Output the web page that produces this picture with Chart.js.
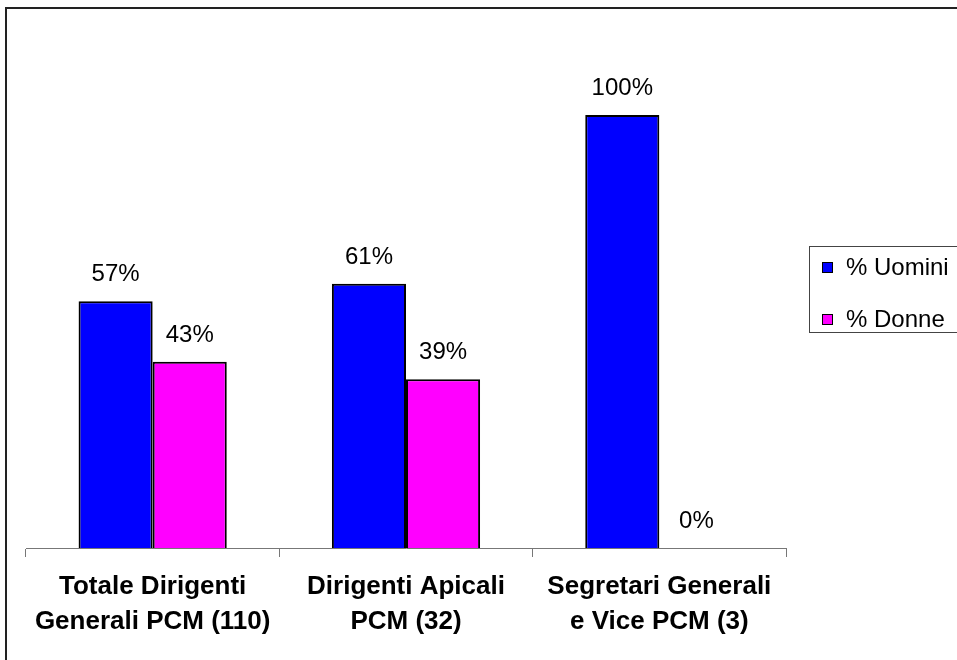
<!DOCTYPE html>
<html>
<head>
<meta charset="utf-8">
<script src="https://cdn.jsdelivr.net/npm/chart.js@4/dist/chart.umd.min.js"></script>
<style>
  html, body { margin: 0; padding: 0; background: #fff; }
  #wrap { width: 957px; height: 660px; position: relative; }
</style>
</head>
<body>
<div id="wrap"><canvas id="c" width="957" height="660"></canvas></div>
<script>
const categories = [
  ["Totale Dirigenti", "Generali PCM (110)"],
  ["Dirigenti Apicali", "PCM (32)"],
  ["Segretari Generali", "e Vice PCM (3)"]
];
const seriesNames = ["% Uomini", "% Donne"];
const uomini = [57, 61, 100];
const donne = [43, 39, 0];
const colors = ["#0000FF", "#FF00FF"];

const FONT = "'Liberation Sans', Arial, sans-serif";

const decor = {
  id: 'decor',
  afterDatasetsDraw(chart) {
    const ctx = chart.ctx;
    ctx.save();
    // value labels
    ctx.font = "24px " + FONT;
    ctx.fillStyle = "#000";
    ctx.textAlign = "center";
    ctx.textBaseline = "alphabetic";
    chart.data.datasets.forEach((ds, di) => {
      const meta = chart.getDatasetMeta(di);
      meta.data.forEach((bar, i) => {
        ctx.fillText(ds.data[i] + "%", bar.x, bar.y - 20);
      });
    });
    // legend
    ctx.strokeStyle = "#444";
    ctx.lineWidth = 1;
    ctx.strokeRect(809.5, 246.5, 160, 86);
    ctx.textAlign = "left";
    ctx.textBaseline = "middle";
    ctx.font = "24px " + FONT;
    seriesNames.forEach((n, i) => {
      const y = 262 + i * 52;
      ctx.fillStyle = colors[i];
      ctx.fillRect(822, y, 11, 11);
      ctx.strokeStyle = "#000";
      ctx.strokeRect(822.5, y + 0.5, 10, 10);
      ctx.fillStyle = "#000";
      ctx.fillText(n, 846, y + 6);
    });
    // outer border
    ctx.strokeStyle = "#222";
    ctx.lineWidth = 2;
    ctx.beginPath();
    ctx.moveTo(6, 670);
    ctx.lineTo(6, 8);
    ctx.lineTo(970, 8);
    ctx.stroke();
    ctx.restore();
  }
};

new Chart(document.getElementById('c'), {
  type: 'bar',
  data: {
    labels: categories,
    datasets: [
      { label: seriesNames[0], data: uomini, backgroundColor: colors[0], borderColor: "#000", borderWidth: 2 },
      { label: seriesNames[1], data: donne, backgroundColor: colors[1], borderColor: "#000", borderWidth: 2 }
    ]
  },
  options: {
    responsive: false,
    animation: false,
    events: [],
    categoryPercentage: 0.585,
    barPercentage: 1.0,
    layout: { padding: { top: 115, left: 26, right: 171, bottom: 0 } },
    plugins: { legend: { display: false }, tooltip: { enabled: false } },
    scales: {
      y: { display: false, min: 0, max: 100 },
      x: {
        afterFit(scale) { scale.height = 112; },
        grid: { display: true, drawOnChartArea: false, drawTicks: true, tickLength: 9, color: "#777", offset: true },
        border: { display: true, color: "#777", width: 1 },
        ticks: {
          color: "#000",
          padding: 12,
          maxRotation: 0,
          autoSkip: false,
          font: { family: FONT, size: 26, weight: 'bold', lineHeight: 1.35 }
        }
      }
    }
  },
  plugins: [decor]
});
</script>
</body>
</html>
